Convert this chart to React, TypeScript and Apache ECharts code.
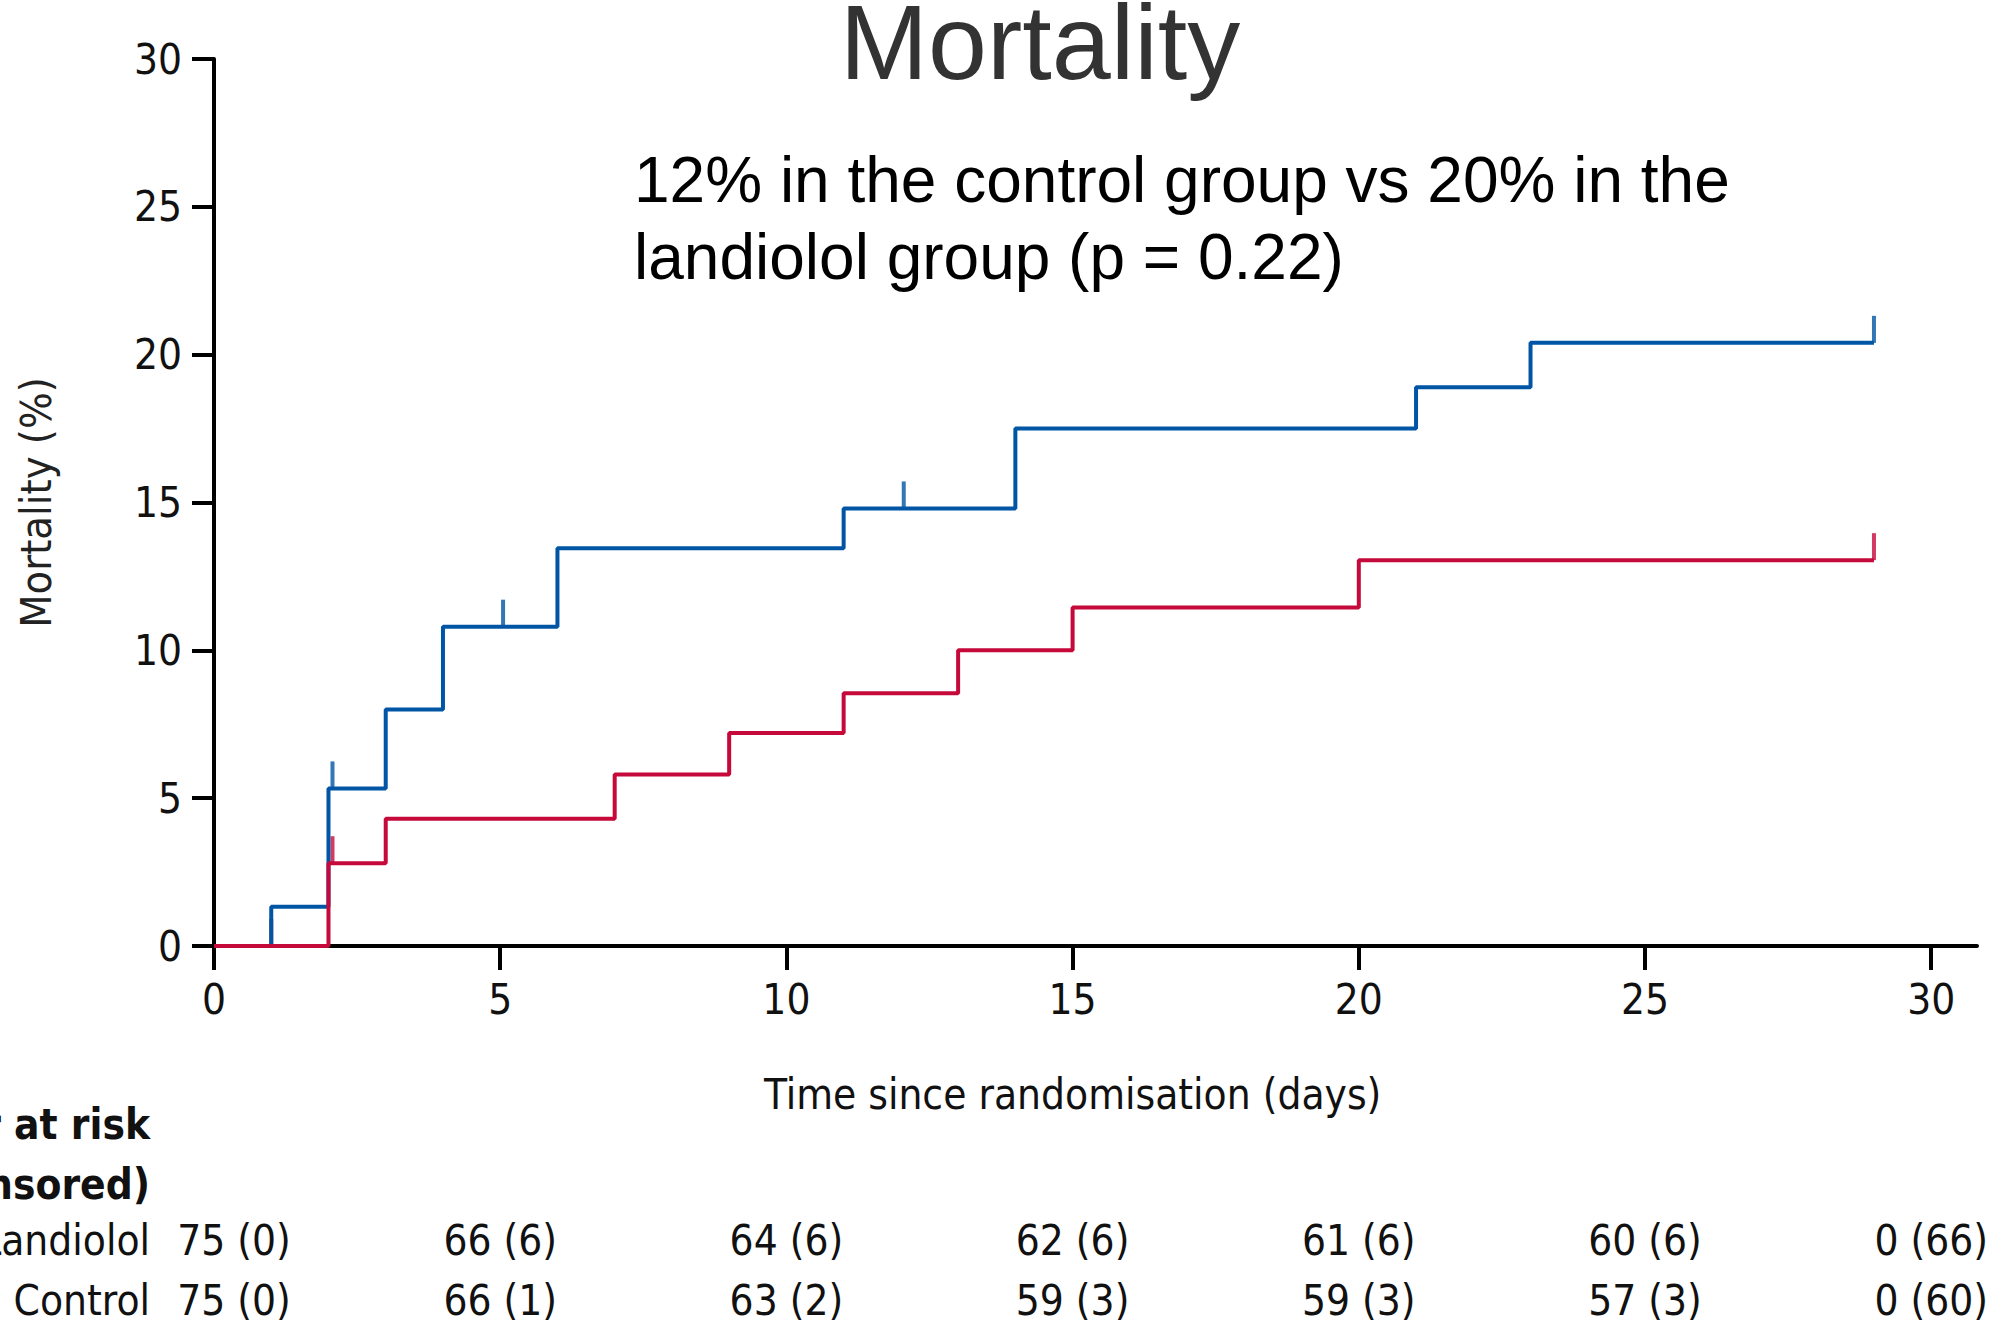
import React, { useEffect, useRef } from "react";
import * as echarts from "echarts";

// Kaplan–Meier cumulative mortality (%) step data
const landiololTimes = [0, 1, 2, 3, 4, 6, 11, 14, 21, 23, 29];
const landiololValues = [0, 1.33, 5.33, 8.0, 10.8, 13.45, 14.8, 17.5, 18.9, 20.4, 20.4];
const controlTimes = [0, 2, 3, 7, 9, 11, 13, 15, 20, 29];
const controlValues = [0, 2.8, 4.3, 5.8, 7.2, 8.55, 10.0, 11.45, 13.05, 13.05];

// censoring marks
const landiololCensorTimes = [2.07, 5.05, 12.05, 29];
const landiololCensorValues = [5.33, 10.8, 14.8, 20.4];
const controlCensorTimes = [1, 2.07, 29];
const controlCensorValues = [0, 2.8, 13.05];

const xTicks = [0, 5, 10, 15, 20, 25, 30];

// numbers at risk table
const riskTimes = [0, 5, 10, 15, 20, 25, 30];
const landiololRisk = ["75 (0)", "66 (6)", "64 (6)", "62 (6)", "61 (6)", "60 (6)", "0 (66)"];
const controlRisk = ["75 (0)", "66 (1)", "63 (2)", "59 (3)", "59 (3)", "57 (3)", "0 (60)"];

const BLUE = "#0055a5";
const RED = "#c6093b";
const NARROW = "'DejaVu Sans Condensed', 'DejaVu Sans', sans-serif";
const ARIAL = "'Liberation Sans', Arial, sans-serif";

function pairs(xs: number[], ys: number[]) {
  return xs.map((x, i) => [x, ys[i]]);
}

export default function App() {
  const ref = useRef<HTMLDivElement>(null);
  useEffect(() => {
    if (!ref.current) return;
    const chart = echarts.init(ref.current, undefined, { renderer: "svg" });
    const censor = (name: string, data: number[][], color: string) => ({
      name,
      type: "scatter",
      data,
      symbol: "rect",
      symbolSize: [4, 27],
      symbolOffset: [0, -13.5],
      itemStyle: { color },
      silent: true,
    });
    chart.setOption({
      animation: false,
      backgroundColor: "#ffffff",
      grid: { left: 214, right: 22, top: 59, bottom: 380, outerBoundsMode: "none", containLabel: false },
      xAxis: {
        type: "value",
        min: 0,
        max: 30.8,
        splitLine: { show: false },
        axisLine: { show: true, lineStyle: { color: "#000", width: 4 } },
        axisTick: { show: true, length: 24, lineStyle: { color: "#000", width: 4 }, customValues: xTicks },
        axisLabel: { customValues: xTicks, margin: 32, fontSize: 42, fontFamily: NARROW, color: "#111" },
      },
      yAxis: {
        type: "value",
        min: 0,
        max: 30,
        interval: 5,
        name: "Mortality (%)",
        nameLocation: "middle",
        nameGap: 157,
        nameRotate: 90,
        nameTextStyle: { fontSize: 43, fontFamily: NARROW, color: "#222" },
        splitLine: { show: false },
        axisLine: { show: true, lineStyle: { color: "#000", width: 4 } },
        axisTick: { show: true, length: 22, lineStyle: { color: "#000", width: 4 } },
        axisLabel: { margin: 32, fontSize: 42, fontFamily: NARROW, color: "#111" },
      },
      series: [
        {
          name: "Landiolol",
          type: "line",
          step: "end",
          symbol: "none",
          data: pairs(landiololTimes, landiololValues),
          lineStyle: { color: BLUE, width: 4 },
          itemStyle: { color: BLUE },
        },
        censor("Landiolol censored", pairs(landiololCensorTimes, landiololCensorValues), BLUE),
        {
          name: "Control",
          type: "line",
          step: "end",
          symbol: "none",
          data: pairs(controlTimes, controlValues),
          lineStyle: { color: RED, width: 4 },
          itemStyle: { color: RED },
        },
        censor("Control censored", pairs(controlCensorTimes, controlCensorValues), RED),
      ],
    });

    const px = (t: number) => chart.convertToPixel({ xAxisIndex: 0 }, t) as number;
    const x0 = px(0);
    const x30 = px(30);
    const txt = (text: string, x: number, y: number, opts: any = {}) => ({
      type: "text",
      x,
      y,
      silent: true,
      style: {
        text,
        fontSize: 42,
        fontFamily: NARROW,
        fill: "#111",
        align: "center",
        verticalAlign: "middle",
        ...opts,
      },
    });
    const graphics: any[] = [
      txt("Mortality", 1040, 42, { fontSize: 106, fontFamily: ARIAL, fill: "#333" }),
      txt("12% in the control group vs 20% in the", 634, 180, { fontSize: 64, fontFamily: ARIAL, fill: "#000", align: "left" }),
      txt("landiolol group (p = 0.22)", 634, 257, { fontSize: 64, fontFamily: ARIAL, fill: "#000", align: "left" }),
      txt("Time since randomisation (days)", (x0 + x30) / 2, 1094, { fontSize: 42 }),
      txt("Number at risk", 150, 1124, { align: "right", fontWeight: "bold" }),
      txt("(censored)", 150, 1184, { align: "right", fontWeight: "bold" }),
      txt("Landiolol", 150, 1240, { align: "right" }),
      txt("Control", 150, 1300, { align: "right" }),
    ];
    riskTimes.forEach((t, i) => {
      const x = px(t) + (i === 0 ? 20 : 0);
      graphics.push(txt(landiololRisk[i], x, 1240));
      graphics.push(txt(controlRisk[i], x, 1300));
    });
    chart.setOption({ graphic: graphics });

    return () => chart.dispose();
  }, []);
  return (
    <div
      ref={ref}
      style={{ position: "absolute", left: 0, top: 0, width: 1999, height: 1326 }}
    />
  );
}
